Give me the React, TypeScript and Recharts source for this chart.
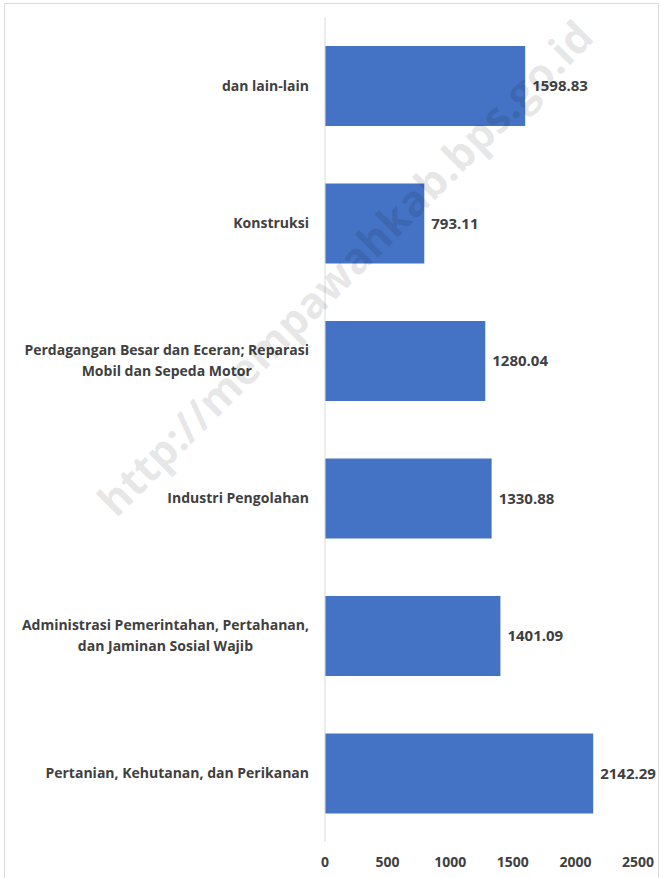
import React from "react";
import { Bar, BarChart, LabelList, XAxis, YAxis } from "recharts";

const sectors = [
  "dan lain-lain",
  "Konstruksi",
  "Perdagangan Besar dan Eceran; Reparasi|Mobil dan Sepeda Motor",
  "Industri Pengolahan",
  "Administrasi Pemerintahan, Pertahanan,|dan Jaminan Sosial Wajib",
  "Pertanian, Kehutanan, dan Perikanan",
];
const values = [1598.83, 793.11, 1280.04, 1330.88, 1401.09, 2142.29];
const xTicks = [0, 500, 1000, 1500, 2000, 2500];

const data = sectors.map((name, i) => ({ name, value: values[i] }));

const FONT = "'Open Sans', sans-serif";
const TEXT = "#404040";

let ctx: CanvasRenderingContext2D | null = null;
function measure(s: string) {
  if (!ctx) ctx = document.createElement("canvas").getContext("2d");
  if (!ctx) return s.length * 7.7;
  ctx.font = `bold 14px ${FONT}`;
  return ctx.measureText(s).width;
}

function CategoryTick({ x, y, payload }: any) {
  const lines = String(payload.value).split("|");
  const w = Math.max(...lines.map(measure));
  const cx = x - w / 2;
  const top = y - ((lines.length - 1) * 21) / 2;
  return (
    <text x={cx} y={top} textAnchor="middle" fill={TEXT} fontSize={14} fontWeight="bold" fontFamily={FONT}>
      {lines.map((l, i) => (
        <tspan key={i} x={cx} y={top + i * 21} dy="0.35em">
          {l}
        </tspan>
      ))}
    </text>
  );
}

export default function App() {
  return (
    <div style={{ position: "absolute", left: 0, top: 0, width: 663, height: 878, background: "#fff" }}>
      <div
        style={{
          position: "absolute",
          left: 4,
          top: 3,
          width: 655,
          height: 880,
          border: "1px solid #d9d9d9",
          boxSizing: "border-box",
        }}
      />
      <BarChart
        width={663}
        height={878}
        data={data}
        layout="vertical"
        margin={{ top: 17, right: 25, bottom: 0, left: 0 }}
        barCategoryGap="21%"
      >
        <XAxis
          type="number"
          domain={[0, 2500]}
          ticks={xTicks}
          axisLine={false}
          tickLine={false}
          height={36}
          tickMargin={9}
          tick={{ fill: TEXT, fontSize: 14, fontWeight: "bold", fontFamily: FONT }}
        />
        <YAxis
          type="category"
          dataKey="name"
          width={325}
          axisLine={{ stroke: "#d9d9d9" }}
          tickLine={false}
          tickMargin={10}
          tick={<CategoryTick />}
        />
        <Bar dataKey="value" fill="#4472C4" isAnimationActive={false}>
          <LabelList
            dataKey="value"
            position="right"
            offset={7}
            fill={TEXT}
            fontSize={15}
            fontWeight="bold"
            fontFamily={FONT}
          />
        </Bar>
      </BarChart>
      <svg
        width={663}
        height={878}
        style={{ position: "absolute", left: 0, top: 0, pointerEvents: "none" }}
      >
        <text
          x={348}
          y={271}
          textAnchor="middle"
          dominantBaseline="middle"
          transform="rotate(-45 348 271)"
          fill="#000"
          fillOpacity={0.1}
          fontSize={43}
          fontWeight="bold"
          fontFamily="'Open Sans', sans-serif"
        >
          http://mempawahkab.bps.go.id
        </text>
      </svg>
    </div>
  );
}
